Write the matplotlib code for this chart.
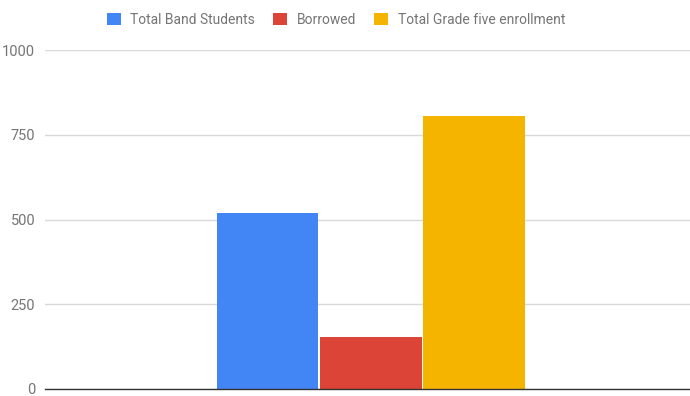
import matplotlib.pyplot as plt
from matplotlib.patches import Patch

series = ['Total Band Students', 'Borrowed', 'Total Grade five enrollment']
values = [518, 154, 806]
colors = ['#4285f4', '#db4437', '#f4b400']
yticks = [0, 250, 500, 750, 1000]

plt.rcParams['font.family'] = ['Roboto', 'DejaVu Sans']

fig = plt.figure(figsize=(6.9, 3.96), dpi=100)
ax = fig.add_axes([45 / 690, 7 / 396, 645 / 690, 339 / 396])

step = 0.160
width = 0.158
shift = 0.005
for i, (name, v, c) in enumerate(zip(series, values, colors)):
    ax.bar((i - 1) * step + shift, v, width=width, color=c, edgecolor='none', zorder=3)

ax.set_xlim(-0.5, 0.5)
ax.set_ylim(0, 1000)
ax.set_yticks(yticks)
ax.set_yticklabels([str(t) for t in yticks], color='#757575', fontsize=10.5)
ax.set_xticks([])
ax.tick_params(axis='y', length=0, pad=7)
ax.grid(axis='y', color='#d9d9d9', linewidth=1, zorder=0)
for s in ['top', 'right', 'left']:
    ax.spines[s].set_visible(False)
ax.spines['bottom'].set_color('#333333')
ax.spines['bottom'].set_linewidth(1)
ax.spines['bottom'].set_zorder(4)

handles = [Patch(facecolor=c, edgecolor='none') for c in colors]
fig.legend(handles, series, loc='center', bbox_to_anchor=(336 / 690, 1 - 19.5 / 396),
           ncol=3, frameon=False, fontsize=10, labelcolor='#757575',
           handlelength=1.0, handleheight=1.0, handletextpad=0.7, columnspacing=1.3)

fig.savefig('out.png', dpi=100)
